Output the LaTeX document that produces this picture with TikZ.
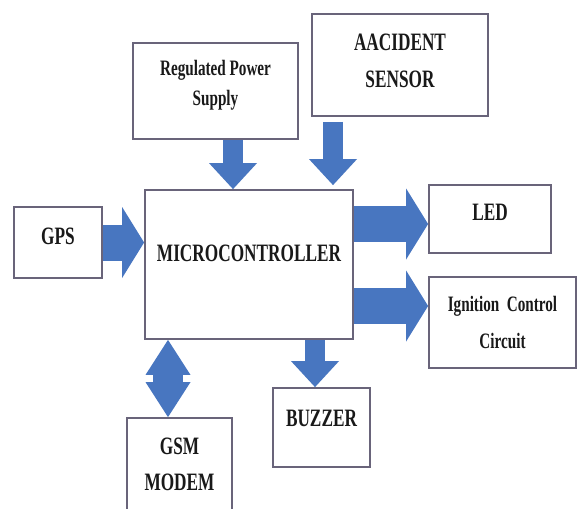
\documentclass[tikz,border=0pt]{standalone}
\usepackage{fontspec}
\setmainfont{Liberation Serif}
\usepackage{graphicx}
\usetikzlibrary{arrows.meta,calc}
\definecolor{flow}{RGB}{72,118,192}
\definecolor{frame}{RGB}{105,100,122}
\tikzset{
  blk/.style={draw=frame, line width=1.8pt, fill=white, rectangle, inner sep=0pt},
  tag/.style={font=\bfseries\fontsize{25}{37.5}\selectfont, align=center, inner sep=0pt, text=black!90},
  small/.style={font=\bfseries\fontsize{22}{30}\selectfont},
  vflow/.style={flow, line width=20pt, -{Triangle[width=48pt,length=26pt,line width=0pt]}},
  hflow/.style={flow, line width=36pt, -{Triangle[width=71pt,length=22pt,line width=0pt]}},
  dflow/.style={flow, line width=30pt, {Triangle[width=45pt,length=35pt,line width=0pt]}-{Triangle[width=45pt,length=35pt,line width=0pt]}}
}
\newcommand{\nrw}[1]{\scalebox{0.69}[1]{#1}}

\begin{document}
\begin{tikzpicture}[x=1pt, y=-1pt]
\clip (0,0) rectangle (577,508);
\fill[white] (0,0) rectangle (577,508);
% blocks
\node[blk, minimum width=208pt, minimum height=149pt] (mc)  at (249,264.5) {};
\node[blk, minimum width=88pt,  minimum height=71pt]  (gps) at (58,242.5) {};
\node[blk, minimum width=165pt, minimum height=96pt]  (rps) at (215.5,91) {};
\node[blk, minimum width=176pt, minimum height=102pt] (sen) at (400,65) {};
\node[blk, minimum width=122pt, minimum height=68pt]  (led) at (490,219) {};
\node[blk, minimum width=147pt, minimum height=91pt]  (ign) at (502.5,322.5) {};
\node[blk, minimum width=97pt,  minimum height=79pt]  (buz) at (321.5,427.5) {};
\node[blk, minimum width=105pt, minimum height=100pt] (gsm) at (179.5,468) {};
% labels
\node[tag] (mcT)  at ($(mc)+(0,-11.5)$) {\nrw{MICROCONTROLLER}};
\node[tag] (gpsT) at ($(gps)+(0,-6.5)$) {\nrw{GPS}};
\node[tag, small] (rpsT) at ($(rps)+(0,-5.5)$) {\nrw{Regulated Power}\\\nrw{Supply}};
\node[tag] (senT) at ($(sen)+(0,-4)$) {\nrw{AACIDENT}\\\nrw{SENSOR}};
\node[tag] (ledT) at ($(led)+(0,-6.5)$) {\nrw{LED}};
\node[tag, small, font=\bfseries\fontsize{22}{37.5}\selectfont] (ignT) at (ign) {\nrw{Ignition\ \ Control}\\\nrw{Circuit}};
\node[tag] (buzT) at ($(buz)+(0,-9)$) {\nrw{BUZZER}};
\node[tag, font=\bfseries\fontsize{25}{35.5}\selectfont] (gsmT) at ($(gsm.north)+(0,47)$) {\nrw{GSM}\\\nrw{MODEM}};
% arrows
\coordinate (rpsA) at ($(rps.south)+(17.5,0)$);
\draw[vflow] (rpsA) -- (rpsA |- mc.north);
\coordinate (senA) at ($(sen.south)+(-67,5)$);
\coordinate (senB) at ($(senA |- mc.north)+(0,-4)$);
\draw[vflow] (senA) -- (senB);
\draw[hflow] (gps.east) -- (gps.east -| mc.west);
\coordinate (ledA) at ($(led.west)+(0,5)$);
\draw[hflow] (ledA -| mc.east) -- (ledA);
\coordinate (ignA) at ($(ign.west)+(0,-16.5)$);
\draw[hflow] (ignA -| mc.east) -- (ignA);
\coordinate (gsmA) at ($(gsm.north)+(-11.5,0)$);
\draw[dflow] (gsmA |- mc.south) -- (gsmA);
\coordinate (buzA) at ($(buz.north)+(-6.5,0)$);
\draw[vflow] (buzA |- mc.south) -- (buzA);
\end{tikzpicture}
\end{document}
